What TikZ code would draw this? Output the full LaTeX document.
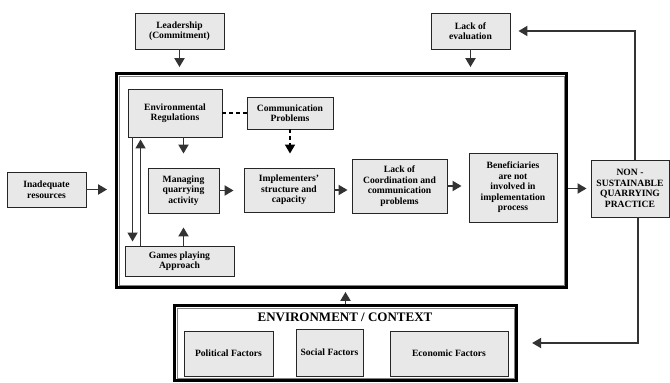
\documentclass[tikz,border=0pt]{standalone}
\usepackage{fontspec}
\setmainfont{Liberation Serif}
\usetikzlibrary{arrows.meta}

\begin{document}
\begin{tikzpicture}[x=1pt,y=-1pt,
    box/.style={draw=black!85,fill=black!9,line width=0.9pt,align=center,inner sep=2pt,
      font=\fontsize{9.6}{10.5}\selectfont\bfseries},
    link/.style={draw=black!80,line width=1.9pt,-{Triangle[length=9pt,width=10pt]}},
    dashlink/.style={draw=black,line width=1.6pt,dash pattern=on 4pt off 3pt},
    frame/.style={draw=black,line width=2.8pt}]
\useasboundingbox (0,0) rectangle (670,383);
% Frames
\node[frame,minimum width=450pt,minimum height=214pt] (core) at (341.5,180.5) {};
\draw[black!50,line width=0.8pt] ([shift={(4,4)}]core.north west) rectangle ([shift={(-4,-4)}]core.south east);
\node[frame,minimum width=342.4pt,minimum height=75.4pt] (env) at (345.5,343) {};
\draw[black!50,line width=0.8pt] ([shift={(4,4)}]env.north west) rectangle ([shift={(-4,-4)}]env.south east);
% Outside boxes
\node[box,minimum width=89pt,minimum height=36pt] (lead) at (179.5,31) {Leadership\\(Commitment)};
\node[box,minimum width=79pt,minimum height=36pt] (eval) at (470.5,31) {Lack of\\evaluation};
\node[box,minimum width=79pt,minimum height=35pt] (inadeq) at (46.5,189.5) {Inadequate\\resources};
\node[box,minimum width=78pt,minimum height=57pt] (nsqp) at (630,188.5) {NON -\\SUSTAINABLE\\QUARRYING\\PRACTICE};
% Inside boxes
\node[box,minimum width=94pt,minimum height=48pt] (regs) at (175,113) {Environmental\\Regulations};
\node[box,minimum width=86pt,minimum height=32pt] (comm) at (290,113) {Communication\\Problems};
\node[box,minimum width=71pt,minimum height=45pt] (manage) at (183.5,190.5) {Managing\\quarrying\\activity};
\node[box,minimum width=90pt,minimum height=44pt] (impl) at (289,190) {Implementers'\\structure and\\capacity};
\node[box,minimum width=95pt,minimum height=54pt] (coord) at (399.5,186) {Lack of\\Coordination and\\communication\\problems};
\node[box,minimum width=88pt,minimum height=69pt] (benef) at (513,187.5) {Beneficiaries\\are not\\involved in\\implementation\\process};
\node[box,minimum width=109pt,minimum height=30pt] (games) at (179.5,261) {Games playing\\Approach};
% Context
\node[font=\fontsize{13}{15}\selectfont\bfseries] (envtitle) at (345,317) {ENVIRONMENT / CONTEXT};
\node[box,minimum width=89pt,minimum height=45pt] (polit) at (228.5,353.5) {Political Factors};
\node[box,minimum width=67pt,minimum height=47pt] (social) at (329.5,352.5) {Social Factors};
\node[box,minimum width=118pt,minimum height=45pt] (econ) at (449,353.5) {Economic Factors};
% Arrows into the frame
\draw[link,shorten >=5pt] (lead.south) -- (lead.south |- core.north);
\draw[link,shorten >=5pt] (eval.south) -- (eval.south |- core.north);
\draw[link,shorten >=8pt] (inadeq.east) -- (inadeq.east -| core.west);
\draw[link,shorten >=3pt] (env.north) -- (env.north |- core.south);
\draw[link,shorten >=4pt] (core.east |- nsqp.west) -- (nsqp.west);
% Feedback
\draw[link,shorten >=8pt] ([xshift=5pt]nsqp.north) |- (eval.east);
\draw[link,shorten >=14pt] ([xshift=8pt]nsqp.south) |- (env.east);
% Inside flow
\draw[dashlink] (regs.east) -- (comm.west);
\draw[dashlink,-{Triangle[length=9pt,width=10pt]},shorten >=14pt] (comm.south) -- (comm.south |- impl.north);
\draw[link,shorten >=14pt] (regs.south -| manage.north) -- (manage.north);
\draw[link,shorten >=10pt] (manage.east) -- (manage.east -| impl.west);
\draw[link,shorten >=4pt] (impl.east) -- (impl.east -| coord.west);
\draw[link,shorten >=7pt] (coord.east) -- (coord.east -| benef.west);
\draw[link,shorten >=14pt] (games.north -| manage.south) -- (manage.south);
% Loop regulations / games
\draw[link,line width=1.5pt,shorten >=4pt] ([xshift=5pt]regs.south west) -- ([xshift=5pt]regs.south west |- games.north);
\draw[link,line width=1.5pt,shorten >=2pt] ([xshift=13pt]regs.south west |- games.north) -- ([xshift=13pt]regs.south west);
\end{tikzpicture}
\end{document}
